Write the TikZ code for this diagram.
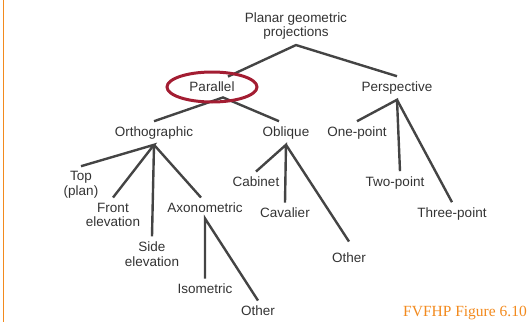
\documentclass[tikz,border=0pt]{standalone}
\usepackage{fontspec}
\setmainfont{Liberation Sans}
\newfontfamily\figfont{Liberation Serif}
\usetikzlibrary{positioning}
\definecolor{txtgray}{HTML}{333333}
\definecolor{linegray}{HTML}{444444}
\definecolor{ovalred}{HTML}{A31D32}
\definecolor{slideorange}{HTML}{F28A1E}

\begin{document}
\begin{tikzpicture}[x=1pt,y=-1pt,
every node/.style={text=txtgray, inner sep=1.5pt, outer sep=4pt, align=center,
font=\fontsize{13.5}{14.5}\selectfont},
link/.style={draw=linegray, line width=2.4pt}]
\useasboundingbox (0,0) rectangle (528,322);
\draw[slideorange, line width=1.6pt] (3.5,0) -- (3.5,322);
\node (root) at (296,26) {Planar geometric\\projections};
\node (par) at (212,87) {Parallel};
\node (per) at (397,88) {Perspective};
\node (orth) at (154,133) {Orthographic};
\node (obl) at (286,133) {Oblique};
\node (one) at (357,133) {One-point};
\node (top) at (81,185) {Top\\(plan)};
\node (front) at (113,215) {Front\\elevation};
\node (side) at (152,254) {Side\\elevation};
\node (axo) at (205,208) {Axonometric};
\node (cab) at (256,182) {Cabinet};
\node (cav) at (285,213) {Cavalier};
\node (oth1) at (349,258) {Other};
\node (two) at (395,183) {Two-point};
\node (three) at (452,214) {Three-point};
\node (iso) at (205,289) {Isometric};
\node (oth2) at (258,311) {Other};
\draw[link] ([xshift=16pt]par.north)--(root.south)--(per.north);
\draw[link] (orth.north)--([xshift=11pt]par.south)--([xshift=-7pt]obl.north);
\draw[link] (top.north)--(orth.south)--(front.north);
\draw[link] (orth.south)--(side.north);
\draw[link] (orth.south)--([xshift=-4pt]axo.north);
\draw[link] (cab.north)--(obl.south)--(cav.north);
\draw[link] (obl.south)--([yshift=6pt]oth1.north);
\draw[link] (one.north)--(per.south)--([xshift=5pt]two.north);
\draw[link] (per.south)--(three.north);
\draw[link] (iso.north)--(axo.south)--(oth2.north);
\draw[ovalred, line width=3pt] (par.center) ellipse [x radius=45pt, y radius=15pt];
\node[text=slideorange, font=\figfont\fontsize{15.5}{17}\selectfont] (fig) at (465,313) {FVFHP Figure 6.10};
\end{tikzpicture}
\end{document}
